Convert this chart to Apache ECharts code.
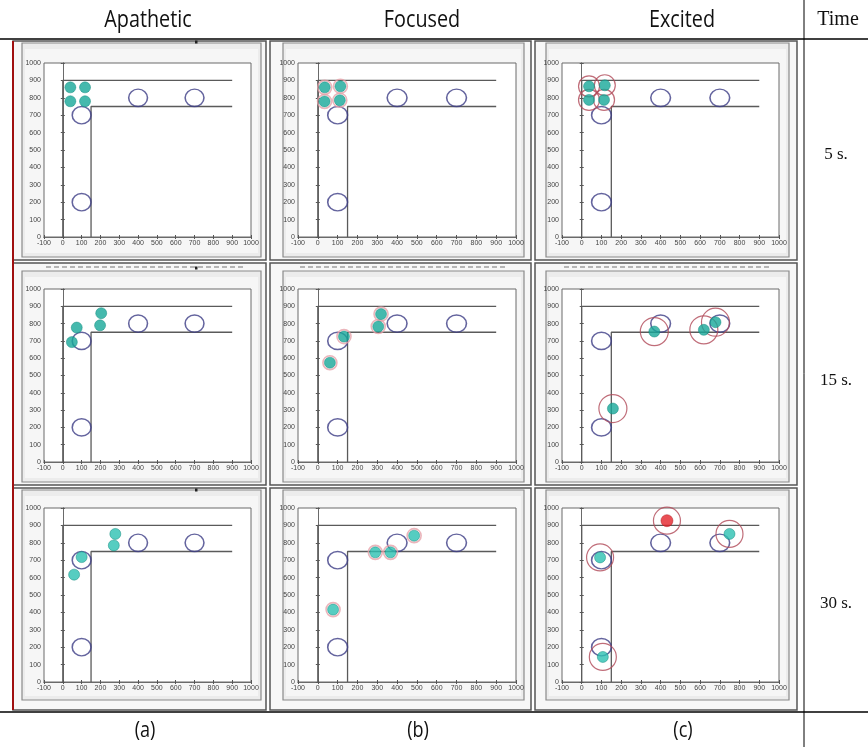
<!DOCTYPE html>
<html>
<head>
<meta charset="utf-8">
<script src="https://cdn.jsdelivr.net/npm/echarts@6/dist/echarts.min.js"></script>
<style>
html,body{margin:0;padding:0;background:#fff;}
#chart{width:868px;height:747px;}
</style>
</head>
<body>
<div id="chart"></div>
<script>
// ---------- data ----------
const colLabels = ['Apathetic', 'Focused', 'Excited'];
const subLabels = ['(a)', '(b)', '(c)'];
const timeLabels = ['5 s.', '15 s.', '30 s.'];
const headerTime = 'Time';

// environment walls (corridor)
const wallOuter = [[0, 0], [0, 900], [900, 900]];
const wallInner = [[150, 0], [150, 750], [900, 750]];
// target / waypoint circles
const targets = [[100, 700], [100, 200], [400, 800], [700, 800]];

// agent positions [row = time][col = mode]
const agents5Apathetic = [[40, 860], [118, 860], [40, 780], [118, 780]];
const agents5Focused = [[35, 860], [114, 866], [34, 779], [111, 786]];
const agents5Excited = [[37, 866], [117, 872], [37, 788], [113, 788]];
const agents15Apathetic = [[74, 777], [48, 693], [204, 860], [198, 790]];
const agents15Focused = [[61, 574], [132, 725], [305, 783], [319, 855]];
const agents15Excited = [[368, 754], [158, 309], [619, 764], [678, 808]];
const agents30Apathetic = [[100, 718], [60, 617], [279, 851], [271, 785]];
const agents30Focused = [[77, 416], [290, 745], [367, 745], [486, 841]];
const agents30Excited = [[93, 716], [107, 144], [749, 851]];
const leader30Excited = [[432, 927]];

const panelAgents = [
  [agents5Apathetic, agents5Focused, agents5Excited],
  [agents15Apathetic, agents15Focused, agents15Excited],
  [agents30Apathetic, agents30Focused, agents30Excited]
];
const panelLeaders = [[[], [], []], [[], [], []], [[], [], leader30Excited]];

// ---------- layout / style ----------
const colX = [44, 298, 562], colW = [207, 218, 217];
const rowY = [63, 289, 508], rowH = [174, 173, 174];
const cellX = [[13, 266], [270, 531], [535, 797]];
const cellY = [[41, 260], [263, 485], [488, 710]];
const frameX = [[22, 261], [283, 524], [546, 789]];
const frameY = [[43, 257], [271, 482], [490, 700]];
const ringSize = [[0, 14, 21], [0, 14, 28], [0, 14, 27]];
const teal = ['#17a898', '#17a898', '#2cc0b2'];

const chart = echarts.init(document.getElementById('chart'), null, {renderer: 'canvas'});

const grids = [], xAxes = [], yAxes = [], series = [];
const plainNum = v => String(v);
let gi = 0;
for (let r = 0; r < 3; r++) {
  for (let c = 0; c < 3; c++) {
    grids.push({left: colX[c], top: rowY[r], width: colW[c], height: rowH[r],
      show: true, backgroundColor: '#ffffff', borderColor: '#6a6a6a', borderWidth: 1, containLabel: false});
    const axLab = {fontSize: 7, color: '#444', margin: 3, fontFamily: 'Liberation Sans', formatter: plainNum};
    xAxes.push({gridIndex: gi, type: 'value', min: -100, max: 1000, interval: 100, position: 'bottom',
      axisLine: {show: true, lineStyle: {color: '#6a6a6a', width: 1}},
      axisTick: {show: true, inside: true, length: 2, lineStyle: {color: '#555'}},
      axisLabel: Object.assign({showMaxLabel: true, showMinLabel: true}, axLab), splitLine: {show: false}});
    xAxes.push({gridIndex: gi, type: 'value', min: -100, max: 1000, interval: 100, position: 'top',
      axisLine: {show: true, lineStyle: {color: '#6a6a6a', width: 1}},
      axisTick: {show: true, inside: true, length: 2, lineStyle: {color: '#555'}},
      axisLabel: {show: false}, splitLine: {show: false}});
    yAxes.push({gridIndex: gi, type: 'value', min: 0, max: 1000, interval: 100, position: 'left',
      axisLine: {show: true, lineStyle: {color: '#6a6a6a', width: 1}},
      axisTick: {show: true, inside: true, length: 2, lineStyle: {color: '#555'}},
      axisLabel: Object.assign({showMaxLabel: true}, axLab), splitLine: {show: false}});
    yAxes.push({gridIndex: gi, type: 'value', min: 0, max: 1000, interval: 100, position: 'right',
      axisLine: {show: true, lineStyle: {color: '#6a6a6a', width: 1}},
      axisTick: {show: true, inside: true, length: 2, lineStyle: {color: '#555'}},
      axisLabel: {show: false}, splitLine: {show: false}});
    const xi = gi * 2, yi = gi * 2;
    [wallOuter, wallInner].forEach(w => series.push({type: 'line', xAxisIndex: xi, yAxisIndex: yi, data: w,
      symbol: 'none', silent: true, animation: false, lineStyle: {color: '#5a5a5a', width: 1.3}, z: 2}));
    const tw = colW[c] * 100 / 1100, th = rowH[r] * 100 / 1000;
    series.push({type: 'scatter', xAxisIndex: xi, yAxisIndex: yi, data: targets, symbol: 'circle',
      symbolSize: [tw, th], silent: true, animation: false,
      itemStyle: {color: 'rgba(255,255,255,0)', borderColor: '#3d3d86', borderWidth: 1.5}, z: 3});
    const ag = panelAgents[r][c], ld = panelLeaders[r][c];
    if (c > 0) {
      series.push({type: 'scatter', xAxisIndex: xi, yAxisIndex: yi, data: ag.concat(ld), symbol: 'circle',
        symbolSize: ringSize[r][c], silent: true, animation: false,
        itemStyle: {color: 'rgba(255,255,255,0)', borderColor: c === 1 ? '#e6a2aa' : '#b04858', borderWidth: c === 1 ? 1.6 : 1.2}, z: 4});
    }
    series.push({type: 'scatter', xAxisIndex: xi, yAxisIndex: yi, data: ag, symbol: 'circle', symbolSize: 11,
      silent: true, animation: false, itemStyle: {color: teal[r], borderColor: '#0f8a7c', borderWidth: 0.6}, z: 5});
    if (ld.length) {
      series.push({type: 'scatter', xAxisIndex: xi, yAxisIndex: yi, data: ld, symbol: 'circle', symbolSize: 12,
        silent: true, animation: false, itemStyle: {color: '#e4232a', borderColor: '#b01018', borderWidth: 0.6}, z: 5});
    }
    gi++;
  }
}

// ---------- graphic (table + figure frames) ----------
const g = [];
const headFont = '"Open Sans","Noto Sans",sans-serif';
for (let c = 0; c < 3; c++) {
  for (let r = 0; r < 3; r++) {
    g.push({type: 'rect', z: -10, shape: {x: cellX[c][0], y: cellY[r][0], width: cellX[c][1] - cellX[c][0], height: cellY[r][1] - cellY[r][0]},
      style: {fill: '#f7f7f7', stroke: '#555', lineWidth: 1.5}});
    g.push({type: 'rect', z: -9, shape: {x: frameX[c][0], y: frameY[r][0], width: frameX[c][1] - frameX[c][0], height: frameY[r][1] - frameY[r][0]},
      style: {fill: '#ececec', stroke: '#8a8a8a', lineWidth: 1.2}});
    g.push({type: 'rect', z: -8, shape: {x: frameX[c][0] + 3, y: frameY[r][0] + 6, width: frameX[c][1] - frameX[c][0] - 6, height: frameY[r][1] - frameY[r][0] - 10},
      style: {fill: '#f6f6f6', stroke: 'none'}});
  }
  // garbled title line on middle row
  g.push({type: 'line', z: 1, shape: {x1: colX[c] + 2, y1: 267, x2: colX[c] + colW[c] - 8, y2: 267},
    style: {stroke: '#a0a0a0', lineWidth: 1.5, lineDash: [5, 3]}});
}
// small marks on top of column 1
[42, 268, 490].forEach(y => g.push({type: 'rect', z: 6, shape: {x: 195, y: y - 1.5, width: 2.5, height: 3}, style: {fill: '#222'}}));
// red left border
g.push({type: 'line', z: 6, shape: {x1: 13, y1: 41, x2: 13, y2: 710}, style: {stroke: '#a01010', lineWidth: 2}});
// table rules
g.push({type: 'line', z: 7, shape: {x1: 0, y1: 39, x2: 868, y2: 39}, style: {stroke: '#000', lineWidth: 1.5}});
g.push({type: 'line', z: 7, shape: {x1: 0, y1: 712, x2: 868, y2: 712}, style: {stroke: '#000', lineWidth: 1.5}});
g.push({type: 'line', z: 7, shape: {x1: 804, y1: 0, x2: 804, y2: 747}, style: {stroke: '#000', lineWidth: 1}});
// headers
const headX = [148, 422, 682];
colLabels.forEach((t, i) => g.push({type: 'text', z: 8, x: headX[i], y: 20, scaleX: 0.86,
  style: {text: t, fontSize: 23, fontFamily: headFont, fill: '#111', textAlign: 'center', textVerticalAlign: 'middle'}}));
g.push({type: 'text', z: 8, x: 838, y: 20,
  style: {text: headerTime, fontSize: 20, fontFamily: '"Liberation Serif","DejaVu Serif",serif', fill: '#111', textAlign: 'center', textVerticalAlign: 'middle'}});
const subX = [145, 418, 683];
subLabels.forEach((t, i) => g.push({type: 'text', z: 8, x: subX[i], y: 731, scaleX: 0.86,
  style: {text: t, fontSize: 21, fontFamily: headFont, fill: '#111', textAlign: 'center', textVerticalAlign: 'middle'}}));
const timeY = [155, 381, 604];
timeLabels.forEach((t, i) => g.push({type: 'text', z: 8, x: 836, y: timeY[i],
  style: {text: t, fontSize: 17, fontFamily: '"Liberation Serif","DejaVu Serif",serif', fill: '#111', textAlign: 'center', textVerticalAlign: 'middle'}}));

chart.setOption({
  animation: false,
  backgroundColor: '#ffffff',
  grid: grids,
  xAxis: xAxes,
  yAxis: yAxes,
  series: series,
  graphic: {elements: g}
});
</script>
</body>
</html>
